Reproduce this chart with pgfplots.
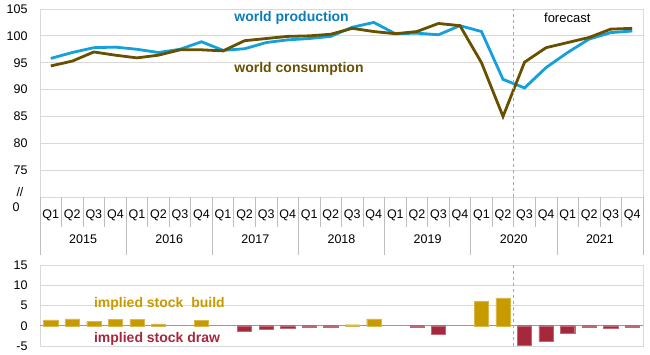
\documentclass[border=0pt]{standalone}
\usepackage{pgfplots}
\pgfplotsset{compat=1.18}
\usepackage{fontspec}
\setmainfont{Liberation Sans}
\definecolor{prod}{RGB}{20,160,220}
\definecolor{prodtxt}{RGB}{10,125,185}
\definecolor{cons}{RGB}{104,80,0}
\definecolor{buildc}{RGB}{199,154,0}
\definecolor{drawc}{RGB}{165,40,60}
\definecolor{gridc}{RGB}{217,217,217}
\definecolor{sepc}{RGB}{190,190,190}
\begin{document}
\begin{tikzpicture}[x=1pt,y=1pt]
\path[use as bounding box] (0,0) rectangle (650,355);
\begin{axis}[
  at={(40pt,158pt)}, anchor=south west, scale only axis,
  width=603pt, height=188pt,
  xmin=-0.5, xmax=27.5, ymin=70, ymax=105,
  ytick={75,80,...,105},
  ymajorgrids, grid style={gridc, line width=0.8pt},
  axis line style={gridc, line width=0.8pt},
  xtick={0,...,27},
  xticklabels={Q1,Q2,Q3,Q4,Q1,Q2,Q3,Q4,Q1,Q2,Q3,Q4,Q1,Q2,Q3,Q4,Q1,Q2,Q3,Q4,Q1,Q2,Q3,Q4,Q1,Q2,Q3,Q4},
  major tick length=0,
  tick label style={font=\fontsize{12.5}{14}\selectfont, text=black},
  /pgf/number format/assume math mode=true,
  yticklabel style={xshift=-9pt},
  xticklabel style={yshift=-9pt, inner xsep=0pt},
  clip=false,
]
\addplot[prod, line width=2.8pt] coordinates {
(0,95.8) (1,96.9) (2,97.8) (3,97.9) (4,97.5) (5,96.9) (6,97.5) (7,98.9)
(8,97.3) (9,97.6) (10,98.75) (11,99.25) (12,99.5) (13,99.9)
(14,101.6) (15,102.5) (16,100.4) (17,100.5) (18,100.2) (19,101.9)
(20,100.8) (21,91.9) (22,90.3) (23,94.1) (24,96.9) (25,99.4) (26,100.6) (27,100.9)};
\addplot[cons, line width=2.8pt] coordinates {
(0,94.4) (1,95.3) (2,97.0) (3,96.4) (4,95.9) (5,96.4) (6,97.4) (7,97.4)
(8,97.2) (9,99.1) (10,99.5) (11,99.9) (12,100.0) (13,100.3)
(14,101.4) (15,100.8) (16,100.4) (17,100.8) (18,102.3) (19,101.9)
(20,95.0) (21,85.0) (22,95.1) (23,97.8) (24,98.75) (25,99.7) (26,101.25) (27,101.4)};
\draw[gray!70, dashed, line width=1pt] (axis cs:21.5,70) -- (axis cs:21.5,105);
\pgfplotsinvokeforeach{-0.5,0.5,...,27.5}{\draw[sepc, line width=0.7pt] (axis cs:#1,70) -- ++(0pt,-30pt);}
\pgfplotsinvokeforeach{-0.5,3.5,...,27.5}{\draw[sepc, line width=0.7pt] (axis cs:#1,70) -- ++(0pt,-58pt);}
\node[font=\fontsize{12.5}{14}\selectfont] at ([yshift=-42pt]axis cs:1.5,70) {2015};
\node[font=\fontsize{12.5}{14}\selectfont] at ([yshift=-42pt]axis cs:5.5,70) {2016};
\node[font=\fontsize{12.5}{14}\selectfont] at ([yshift=-42pt]axis cs:9.5,70) {2017};
\node[font=\fontsize{12.5}{14}\selectfont] at ([yshift=-42pt]axis cs:13.5,70) {2018};
\node[font=\fontsize{12.5}{14}\selectfont] at ([yshift=-42pt]axis cs:17.5,70) {2019};
\node[font=\fontsize{12.5}{14}\selectfont] at ([yshift=-42pt]axis cs:21.5,70) {2020};
\node[font=\fontsize{12.5}{14}\selectfont] at ([yshift=-42pt]axis cs:25.5,70) {2021};
\node[anchor=east, font=\fontsize{12.5}{14}\selectfont] at ([xshift=-13pt,yshift=5pt]rel axis cs:0,0) {//};
\node[anchor=east, font=\fontsize{12.5}{14}\selectfont] at ([xshift=-17pt,yshift=-10pt]rel axis cs:0,0) {0};
\node[anchor=west, inner sep=0pt, text=prodtxt, font=\fontsize{14}{16}\selectfont\bfseries] at (axis cs:8.52,103.3) {world production};
\node[anchor=west, inner sep=0pt, text=cons, font=\fontsize{14}{16}\selectfont\bfseries] at (axis cs:8.52,93.8) {world consumption};
\node[anchor=west, inner sep=0pt, font=\fontsize{13}{15}\selectfont] at (axis cs:22.9,103.3) {forecast};
\end{axis}
\begin{axis}[
  at={(40pt,9pt)}, anchor=south west, scale only axis,
  width=603pt, height=81pt,
  xmin=-0.5, xmax=27.5, ymin=-5, ymax=15,
  ytick={-5,0,...,15}, xtick=\empty,
  ymajorgrids, grid style={gridc, line width=0.8pt},
  axis line style={gridc, line width=0.8pt},
  major tick length=0,
  extra y ticks={0}, extra y tick labels={},
  extra y tick style={grid style={gray!80, line width=1pt}},
  tick label style={font=\fontsize{12.5}{14}\selectfont, text=black},
  /pgf/number format/assume math mode=true,
  yticklabel style={xshift=-9pt},
  clip=false,
]
\addplot[ybar, bar width=0.66, bar shift=0pt, fill=buildc, draw=buildc!70!white] coordinates {
(0,1.45) (1,1.7) (2,1.0) (3,1.6) (4,1.5) (5,0.45) (7,1.4) (14,0.25) (15,1.7) (20,6.0) (21,6.9)};
\addplot[ybar, bar width=0.66, bar shift=0pt, fill=drawc, draw=drawc!70!white] coordinates {
(9,-1.45) (10,-0.8) (11,-0.7) (12,-0.45) (13,-0.35) (17,-0.3) (18,-2.0)
(22,-4.7) (23,-3.8) (24,-1.8) (25,-0.25) (26,-0.7) (27,-0.45)};
\draw[gray!70, dashed, line width=1pt] (axis cs:21.5,-5) -- (axis cs:21.5,15);
\node[anchor=west, inner sep=0pt, text=buildc, font=\fontsize{14}{16}\selectfont\bfseries] at (axis cs:2.0,5.4) {implied stock\ \ build};
\node[anchor=west, inner sep=0pt, text=drawc, font=\fontsize{14}{16}\selectfont\bfseries] at (axis cs:2.0,-3.3) {implied stock draw};
\end{axis}
\end{tikzpicture}
\end{document}
